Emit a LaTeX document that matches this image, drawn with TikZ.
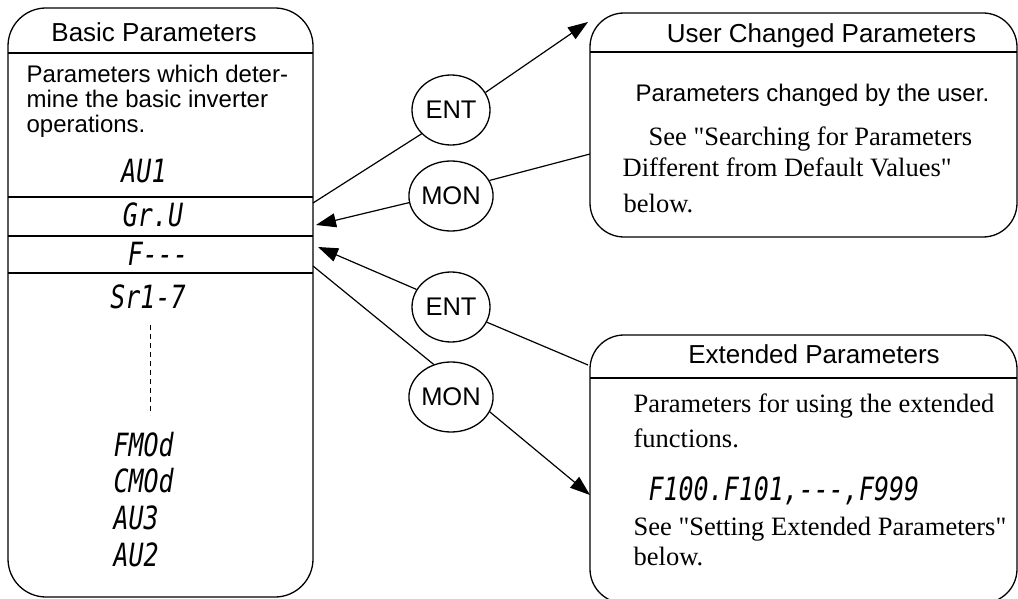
\documentclass[tikz,border=0pt]{standalone}
\usepackage{fontspec}
\setmainfont{Liberation Sans}
\newfontfamily\seriffont{Liberation Serif}
\newfontfamily\segfont[FakeStretch=0.78]{DejaVu Sans Mono}
\usetikzlibrary{shapes.geometric,arrows.meta}
\begin{document}
\begin{tikzpicture}[x=1pt,y=-1pt,line width=1.3pt,
  box/.style={draw,inner sep=0pt},
  key/.style={draw,ellipse,minimum width=78pt,minimum height=70pt,inner sep=0pt,font=\fontsize{25.5}{30}\selectfont},
  head/.style={font=\fontsize{26}{30}\selectfont,anchor=base,inner sep=0pt},
  body/.style={font=\fontsize{24}{28}\selectfont,anchor=base west,inner sep=0pt},
  serifbody/.style={font=\seriffont\fontsize{26.5}{30}\selectfont,anchor=base west,inner sep=0pt},
  seg/.style={font=\segfont\itshape\fontsize{32}{36}\selectfont,inner sep=0pt},
  conn/.style={line width=1.2pt},
  arr/.style={-{Triangle[length=20pt,width=14pt]}}]
\useasboundingbox (0,0) rectangle (1018,599);

% boxes
\node[box,rounded corners=38pt,minimum width=305pt,minimum height=589pt] (basic) at (160.5,302.5) {};
\node[box,rounded corners=34pt,minimum width=427pt,minimum height=224pt] (user) at (803.5,125) {};
\node[box,rounded corners=34pt,minimum width=427pt,minimum height=268pt] (ext) at (803.5,469) {};

% separators
\draw (8,53) -- (313,53);
\draw (8,197) -- (313,197);
\draw (8,236) -- (313,236);
\draw (8,273) -- (313,273);
\draw (590,52) -- (1017,52);
\draw (590,378) -- (1017,378);

% basic box texts
\node[head] (bhead) at (154,42) {Basic Parameters};
\node[body] (bl1) at (26,83) {Parameters which deter-};
\node[body] (bl2) at (26,108) {mine the basic inverter};
\node[body] (bl3) at (26,133) {operations.};
\node[seg] (au1) at (144,171) {AU1};
\node[seg] (gru) at (153,215) {Gr.U};
\node[seg] (fdash) at (158,254) {F-{}-{}-};
\node[seg] (sr) at (148,297) {Sr1-7};
\draw[dash pattern=on 5pt off 4pt,line width=1pt] (150,325) -- (150,415);
\node[seg,anchor=west] (fmod) at (113,445) {FMOd};
\node[seg,anchor=west] (cmod) at (113,481) {CMOd};
\node[seg,anchor=west] (au3) at (113,518) {AU3};
\node[seg,anchor=west] (au2) at (113,555) {AU2};

% user box texts
\node[head] (uhead) at (821.5,43) {User Changed Parameters};
\node[body] (u1) at (635,102) {Parameters changed by the user.};
\node[serifbody] (u2) at (648,146) {See "Searching for Parameters};
\node[serifbody] (u3) at (622,177) {Different from Default Values"};
\node[serifbody] (u4) at (623,212) {below.};

% extended box texts
\node[head] (ehead) at (814,363) {Extended Parameters};
\node[serifbody] (e1) at (633,412) {Parameters for using the extended};
\node[serifbody] (e2) at (633,447) {functions.};
\node[seg,anchor=base west] (e3) at (648,500) {F100.F101,-{}-{}-,F999};
\node[serifbody] (e4) at (633,535) {See "Setting Extended Parameters"};
\node[serifbody] (e5) at (633,565) {below.};

% keys
\node[key] (ent1) at (451,110) {ENT};
\node[key] (mon1) at (451,196) {MON};
\node[key] (ent2) at (451,307) {ENT};
\node[key] (mon2) at (451,397) {MON};

% connector ends
\coordinate (bA) at (313,203);
\coordinate (uTip) at (588,22);
\coordinate (uB) at (590,154);
\coordinate (bTipA) at (316,225);
\coordinate (eA) at (588,365);
\coordinate (bTipB) at (318,247);
\coordinate (bB) at (313,266);
\coordinate (eTip) at (590,495);

\draw[conn] (bA) -- (ent1.219);
\draw[conn,arr] (ent1.27) -- (uTip);
\draw[conn] (uB) -- (mon1.22);
\draw[conn,arr] (mon1.189) -- (bTipA);
\draw[conn] (eA) -- (ent2.337);
\draw[conn,arr] (ent2.153) -- (bTipB);
\draw[conn] (bB) -- (mon2.118);
\draw[conn,arr] (mon2.339) -- (eTip);
\end{tikzpicture}
\end{document}
